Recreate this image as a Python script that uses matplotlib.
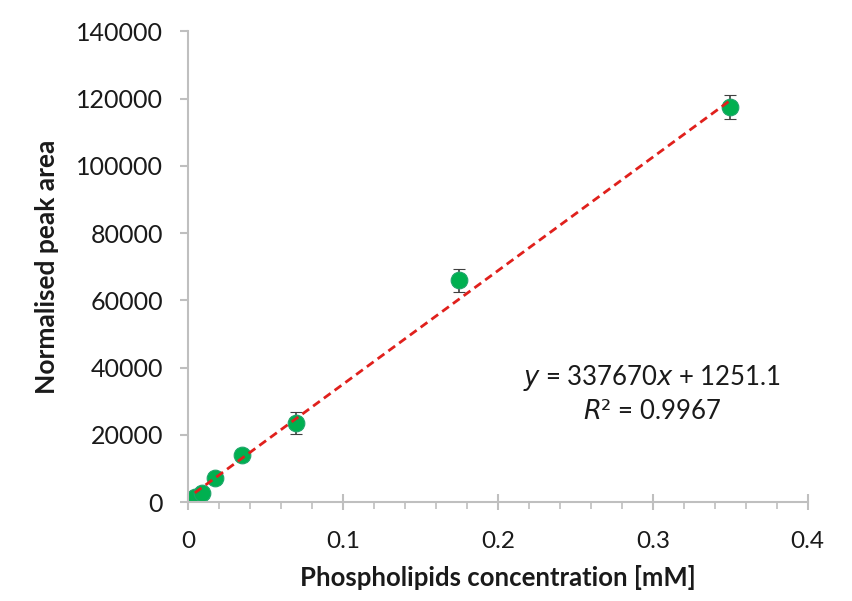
import matplotlib.pyplot as plt
import numpy as np

# concentrations [mM] and normalised peak areas
conc = [0.004375, 0.00875, 0.0175, 0.035, 0.07, 0.175, 0.35]
area = [1600, 2700, 7100, 14000, 23500, 65900, 117400]
err = [600, 700, 800, 1000, 3400, 3300, 3500]

slope = 337670
intercept = 1251.1
r2 = 0.9967

plt.rcParams['font.family'] = ['Lato', 'DejaVu Sans']

fig = plt.figure(figsize=(8.52, 6.01), dpi=100)
ax = fig.add_axes([0.2207, 0.1647, 0.948 - 0.2207, 0.948 - 0.1647])

# trendline over the data range
xs = np.array([min(conc), max(conc)])
ax.plot(xs, slope * xs + intercept, color='#e0201c', lw=2, dashes=(3, 1.8), zorder=3)

ax.errorbar(conc, area, yerr=err, fmt='o', color='#00b050', ms=12,
            mec='#1ea56a', mew=0.8, ecolor='#404040', elinewidth=1.2,
            capsize=4, capthick=1.2, zorder=2)

ax.set_xlim(0, 0.4)
ax.set_ylim(0, 140000)
ax.set_xticks([0, 0.1, 0.2, 0.3, 0.4])
ax.set_xticklabels(['0', '0.1', '0.2', '0.3', '0.4'])
ax.set_xticks(np.arange(0, 0.4001, 0.02), minor=True)
ax.set_yticks(np.arange(0, 140001, 20000))

for s in ['top', 'right']:
    ax.spines[s].set_visible(False)
for s in ['left', 'bottom']:
    ax.spines[s].set_color('#bfbfbf')
    ax.spines[s].set_linewidth(1.5)

ax.tick_params(axis='y', which='major', direction='out', length=6, width=1.5,
               color='#bfbfbf', labelsize=18, labelcolor='#1a1a1a', pad=12)
ax.tick_params(axis='x', which='major', direction='inout', length=12, width=1.5,
               color='#bfbfbf', labelsize=17.5, labelcolor='#1a1a1a', pad=15)
ax.tick_params(axis='x', which='minor', direction='out', length=5, width=1.2,
               color='#bfbfbf')

ax.set_xlabel('Phospholipids concentration [mM]', fontsize=18.5, fontweight='bold',
              color='#1a1a1a', labelpad=9)
ax.set_ylabel('Normalised peak area', fontsize=19, fontweight='bold',
              color='#1a1a1a', labelpad=12)

ax.text(0.748, 0.231, '$y$ = 337670$x$ + 1251.1\n$R²$ = 0.9967', transform=ax.transAxes,
        ha='center', va='center', fontsize=18.5, color='#1a1a1a', linespacing=1.3)

fig.savefig('out.png', dpi=100)
